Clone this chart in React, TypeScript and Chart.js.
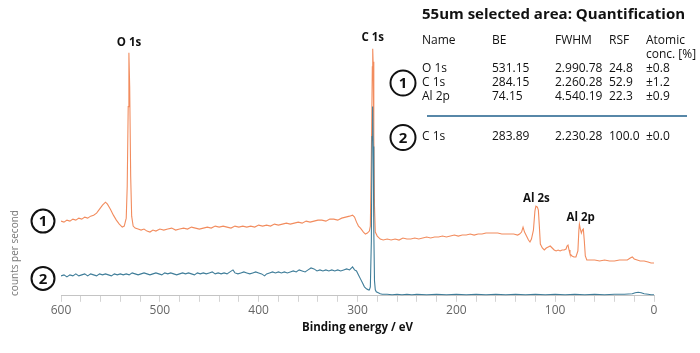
import React, { useEffect, useRef } from 'react';
import { Chart, registerables } from 'chart.js';

Chart.register(...registerables);

const FONT = '"Open Sans", "Noto Sans", sans-serif';

// Spectrum 1 (orange): binding energy (eV) and counts (arb. cps)
const spectrum1Energy = [
  600, 597, 594, 591, 588, 585, 582, 579, 576, 573, 570, 567, 564, 561, 558, 555, 553, 550, 547, 544,
  541, 538, 536, 534, 533, 532, 531.3, 530.5, 529.5, 528.5, 527, 525, 522, 519, 516, 513, 510, 507, 504, 500,
  496, 492, 488, 484, 480, 476, 472, 468, 464, 460, 456, 452, 448, 444, 440, 436, 432, 428, 424, 420,
  416, 412, 408, 404, 400, 396, 392, 388, 384, 380, 376, 372, 368, 364, 360, 356, 352, 348, 344, 340,
  336, 332, 328, 324, 320, 316, 312, 308, 305, 303, 301, 299, 297, 294, 292, 290, 288, 287, 286, 285,
  284.6, 284.2, 283.5, 282.8, 282, 280, 277, 274, 270, 266, 262, 258, 254, 250, 246, 242, 238, 234, 230, 226,
  222, 218, 214, 210, 206, 202, 198, 194, 190, 186, 182, 178, 174, 170, 166, 162, 158, 154, 150, 146,
  142, 138, 136, 134, 132.5, 131, 129, 127, 125.5, 124, 122, 120.5, 119.5, 118, 117, 116, 115, 113, 111, 109,
  107, 105, 103, 101, 99, 97, 95, 93, 91, 89, 88, 87, 86, 85, 83, 81, 79, 77, 76, 75.5,
  74.5, 73.5, 72.5, 71.5, 70.5, 69.5, 68, 65, 60, 55, 50, 45, 40, 35, 30, 27, 24, 22, 20, 17,
  14, 10, 6, 3, 0,
];
const spectrum1Counts = [
  75, 74, 76, 75, 77, 76, 78, 77, 79, 78, 80, 81, 83, 87, 91, 94, 92, 87, 81, 76,
  72, 69, 70, 78, 110, 190, 244, 210, 120, 80, 70, 68, 67, 66, 67, 65, 64, 66, 65, 67,
  66, 67, 68, 66, 67, 68, 67, 69, 68, 67, 68, 69, 68, 70, 69, 70, 69, 68, 70, 69,
  70, 69, 70, 69, 71, 70, 71, 70, 72, 71, 72, 73, 72, 73, 74, 73, 75, 74, 75, 76,
  76, 75, 77, 77, 76, 78, 79, 80, 81, 79, 74, 70, 68, 64, 62, 63, 65, 70, 140, 230,
  248, 235, 160, 90, 64, 60, 57, 56, 57, 56, 57, 56, 58, 57, 57, 58, 57, 58, 59, 58,
  59, 59, 60, 59, 60, 61, 60, 61, 61, 62, 61, 62, 62, 63, 63, 63, 63, 62, 62, 62,
  62, 61, 62, 64, 69, 64, 60, 56, 54, 57, 66, 85, 90, 89, 86, 70, 52, 48, 46, 48,
  49, 50, 48, 46, 45, 46, 45, 46, 46, 47, 50, 51, 46, 42, 40, 39, 39, 45, 66, 72,
  67, 63, 66, 67, 55, 40, 36, 36, 36, 35, 36, 35, 35, 36, 36, 36, 38, 39, 37, 36,
  35, 35, 34, 33, 33,
];

// Spectrum 2 (blue)
const spectrum2Energy = [
  600, 597, 594, 591, 588, 585, 582, 579, 576, 573, 570, 567, 564, 561, 558, 555, 552, 549, 546, 543,
  540, 537, 534, 531, 528, 525, 522, 519, 516, 513, 510, 507, 504, 501, 498, 495, 492, 489, 486, 483,
  480, 477, 474, 471, 468, 465, 462, 459, 456, 453, 450, 447, 444, 441, 438, 435, 432, 429, 426, 424,
  421, 418, 415, 412, 409, 406, 403, 400, 397, 394, 392, 389, 386, 383, 380, 377, 374, 371, 368, 365,
  362, 359, 356, 353, 350, 347, 344, 341, 338, 335, 332, 329, 326, 323, 320, 317, 314, 311, 308, 306,
  305, 303, 301, 299, 297, 295, 293, 291, 289, 288, 287, 286, 285.3, 284.7, 284.1, 283.5, 282.8, 282, 281, 279,
  277, 275, 270, 265, 260, 255, 250, 245, 240, 230, 220, 210, 200, 190, 180, 170, 160, 150, 140, 130,
  120, 110, 100, 90, 80, 70, 60, 50, 40, 30, 22, 19, 16, 13, 10, 6, 3, 0,
];
const spectrum2Counts = [
  20, 21, 19, 21, 20, 22, 20, 21, 22, 20, 22, 21, 20, 22, 21, 22, 21, 20, 22, 21,
  22, 21, 22, 21, 23, 22, 21, 22, 23, 22, 21, 22, 23, 22, 21, 23, 22, 23, 22, 21,
  22, 23, 22, 23, 22, 21, 23, 22, 23, 22, 23, 24, 22, 23, 22, 23, 22, 24, 26, 23,
  22, 23, 24, 23, 22, 23, 24, 23, 22, 20, 22, 23, 24, 23, 24, 23, 24, 23, 24, 25,
  24, 26, 25, 24, 26, 28, 27, 25, 26, 25, 26, 25, 26, 25, 26, 25, 26, 27, 26, 28,
  29, 26, 25, 21, 17, 13, 9, 7, 6, 6, 9, 55, 160, 190, 150, 65, 15, 6, 4, 3,
  2, 1.5, 1.5, 1, 1.5, 1, 1.5, 1, 1.5, 1, 1.5, 1, 1.5, 1, 1.5, 1, 1.5, 1, 1.5, 1,
  1.5, 1, 1.5, 1, 1.5, 1, 1.5, 1, 1.5, 1.5, 2, 3, 3.5, 3, 2, 1.5, 1, 1,
];

// Peak annotations
const peakNames = ['O 1s', 'C 1s', 'Al 2s', 'Al 2p'];
const peakEnergies = [531.15, 284.6, 119, 74.15];
const peakLabelCounts = [254, 259, 98, 78];

// Quantification table
const tableTitle = '55um selected area: Quantification';
const tableHeaders = ['Name', 'BE', 'FWHM', 'RSF', 'Atomic'];
const tableHeader2 = 'conc. [%]';
const area1Names = ['O 1s', 'C 1s', 'Al 2p'];
const area1BE = ['531.15', '284.15', '74.15'];
const area1FWHM = ['2.990.78', '2.260.28', '4.540.19'];
const area1RSF = ['24.8', '52.9', '22.3'];
const area1Conc = ['±0.8', '±1.2', '±0.9'];
const area2Names = ['C 1s'];
const area2BE = ['283.89'];
const area2FWHM = ['2.230.28'];
const area2RSF = ['100.0'];
const area2Conc = ['±0.0'];

const xTickStep = 20;
const xLabelStep = 100;

const ORANGE = '#f28c5e';
const BLUE = '#3f7d99';

function circleLabel(ctx: CanvasRenderingContext2D, cx: number, cy: number, r: number, txt: string) {
  ctx.beginPath();
  ctx.arc(cx, cy, r, 0, Math.PI * 2);
  ctx.lineWidth = 2;
  ctx.strokeStyle = '#111';
  ctx.stroke();
  ctx.fillStyle = '#111';
  ctx.font = `bold 15px ${FONT}`;
  ctx.textAlign = 'center';
  ctx.textBaseline = 'middle';
  ctx.fillText(txt, cx, cy + 1);
}

const overlayPlugin = {
  id: 'overlay',
  afterDraw(chart: any) {
    const { ctx, scales } = chart;
    const xs = scales.x;
    const ys = scales.y;
    ctx.save();

    // y-axis title
    ctx.save();
    ctx.translate(15, 253);
    ctx.rotate(-Math.PI / 2);
    ctx.font = `10px ${FONT}`;
    ctx.fillStyle = '#777';
    ctx.textAlign = 'center';
    ctx.textBaseline = 'middle';
    ctx.fillText('counts per second', 0, 0);
    ctx.restore();

    // peak labels
    ctx.font = `bold 11.5px ${FONT}`;
    ctx.fillStyle = '#111';
    ctx.textAlign = 'center';
    ctx.textBaseline = 'middle';
    peakNames.forEach((n, i) => {
      ctx.fillText(n, xs.getPixelForValue(peakEnergies[i]), ys.getPixelForValue(peakLabelCounts[i]));
    });

    // series markers
    circleLabel(ctx, 43, ys.getPixelForValue(spectrum1Counts[0]), 11.5, '1');
    circleLabel(ctx, 43, ys.getPixelForValue(spectrum2Counts[0]) + 2.5, 11.5, '2');

    // table
    ctx.fillStyle = '#111';
    ctx.textAlign = 'left';
    ctx.textBaseline = 'middle';
    ctx.font = `bold 15px ${FONT}`;
    ctx.fillText(tableTitle, 422, 15);

    const cols = [422, 492, 555, 609, 646];
    ctx.font = `12px ${FONT}`;
    tableHeaders.forEach((h, i) => ctx.fillText(h, cols[i], 41));
    ctx.fillText(tableHeader2, cols[4], 55);

    const rowY1 = [69, 82.5, 96.5];
    area1Names.forEach((n, i) => {
      const vals = [n, area1BE[i], area1FWHM[i], area1RSF[i], area1Conc[i]];
      vals.forEach((v, j) => ctx.fillText(v, cols[j], rowY1[i]));
    });
    const rowY2 = [137];
    area2Names.forEach((n, i) => {
      const vals = [n, area2BE[i], area2FWHM[i], area2RSF[i], area2Conc[i]];
      vals.forEach((v, j) => ctx.fillText(v, cols[j], rowY2[i]));
    });

    ctx.beginPath();
    ctx.moveTo(427, 116);
    ctx.lineTo(687, 116);
    ctx.lineWidth = 1.5;
    ctx.strokeStyle = '#1f5f8b';
    ctx.stroke();

    circleLabel(ctx, 403, 83, 12.5, '1');
    circleLabel(ctx, 403, 137.5, 12.5, '2');

    ctx.restore();
  },
};

export default function App() {
  const canvasRef = useRef<HTMLCanvasElement | null>(null);

  useEffect(() => {
    if (!canvasRef.current) return;
    const chart = new Chart(canvasRef.current, {
      type: 'line',
      data: {
        datasets: [
          {
            label: 'Area 2',
            data: spectrum2Energy.map((e, i) => ({ x: e, y: spectrum2Counts[i] })),
            borderColor: BLUE,
            borderWidth: 1.1,
            pointRadius: 0,
            tension: 0,
            order: 0,
          },
          {
            label: 'Area 1',
            data: spectrum1Energy.map((e, i) => ({ x: e, y: spectrum1Counts[i] })),
            borderColor: ORANGE,
            borderWidth: 1.1,
            pointRadius: 0,
            tension: 0,
            order: 1,
          },
        ],
      },
      options: {
        animation: false,
        responsive: false,
        layout: { padding: { left: 61, right: 46, top: 20, bottom: 0 } },
        plugins: { legend: { display: false }, tooltip: { enabled: false } },
        scales: {
          x: {
            type: 'linear',
            reverse: true,
            min: 0,
            max: 600,
            grid: {
              display: true,
              drawOnChartArea: false,
              drawTicks: true,
              tickLength: 6,
              color: '#d4d4d4',
            },
            border: { display: true, color: '#c4c4c4', width: 1 },
            ticks: {
              stepSize: xTickStep,
              autoSkip: false,
              maxRotation: 0,
              padding: 2,
              color: '#666',
              font: { family: FONT, size: 12 },
              callback: (v: any) => (Number(v) % xLabelStep === 0 ? String(v) : ''),
            },
            title: {
              display: true,
              text: 'Binding energy / eV',
              color: '#111',
              font: { family: FONT, size: 11.5, weight: 'bold' },
              padding: { top: 1, bottom: 18 },
            },
          },
          y: {
            display: false,
            min: 0,
            max: 277,
          },
        },
      },
      plugins: [overlayPlugin],
    });
    return () => chart.destroy();
  }, []);

  return (
    <div style={{ position: 'absolute', left: 0, top: 0, width: 700, height: 353, background: '#fff' }}>
      <canvas ref={canvasRef} width={700} height={353} style={{ display: 'block' }} />
    </div>
  );
}
